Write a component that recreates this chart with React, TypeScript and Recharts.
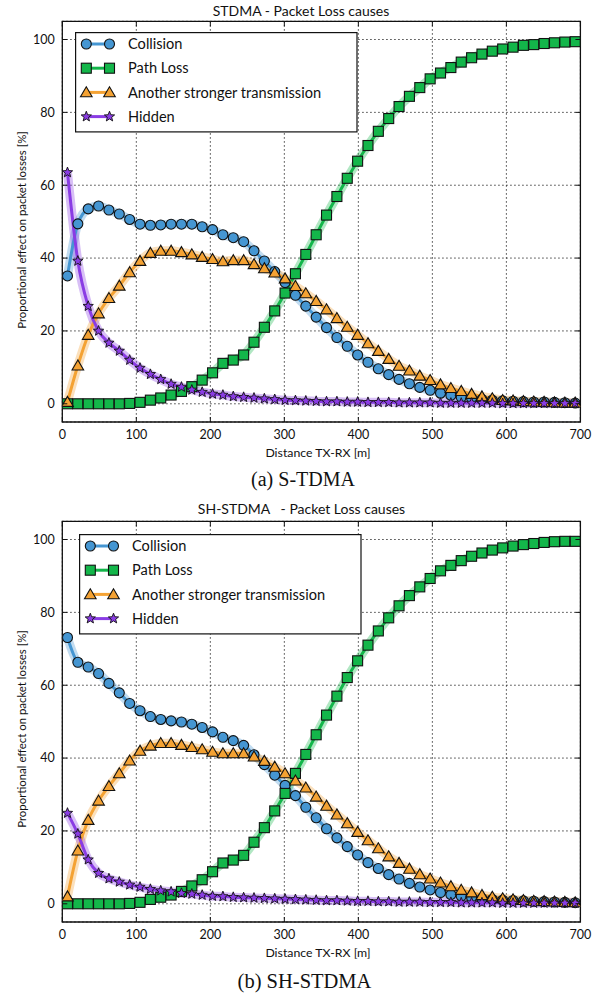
import React from 'react';
import { ComposedChart, Line, XAxis, YAxis, CartesianGrid, ReferenceArea, Legend } from 'recharts';

// ---------- data ----------
const distances = [7, 21, 35, 49, 63, 77, 91, 105, 119, 133, 147, 161, 175, 189, 203, 217, 231, 245, 259, 273, 287, 301, 315, 329, 343, 357, 371, 385, 399, 413, 427, 441, 455, 469, 483, 497, 511, 525, 539, 553, 567, 581, 595, 609, 623, 637, 651, 665, 679, 693];

const xTicks = [0, 100, 200, 300, 400, 500, 600, 700];
const yTicks = [0, 20, 40, 60, 80, 100];

// (a) S-TDMA
const stdmaCollision = [35.1, 49.4, 53.5, 54.3, 53.2, 52.1, 50.6, 49.3, 49.0, 49.1, 49.3, 49.3, 49.3, 48.6, 47.8, 46.4, 45.6, 44.5, 42.0, 39.2, 36.3, 33.3, 29.8, 26.8, 23.8, 20.9, 18.2, 15.8, 13.4, 11.4, 9.6, 8.0, 6.7, 5.5, 4.5, 3.7, 2.9, 2.3, 1.8, 1.5, 1.2, 1.0, 0.8, 0.7, 0.6, 0.5, 0.5, 0.4, 0.3, 0.2];
const stdmaPathLoss = [0, 0, 0, 0, 0, 0, 0.1, 0.4, 1.0, 1.6, 2.4, 3.4, 4.7, 6.5, 8.5, 11.1, 12.0, 13.4, 16.9, 21.0, 25.5, 30.4, 35.7, 41.0, 46.4, 51.8, 56.9, 61.9, 66.6, 70.9, 74.8, 78.3, 81.6, 84.4, 86.8, 89.2, 90.8, 92.3, 93.8, 95.0, 96.0, 96.8, 97.4, 97.9, 98.4, 98.6, 98.9, 99.1, 99.3, 99.4];
const stdmaStronger = [0.5, 10.5, 18.9, 24.8, 29.0, 32.4, 36.1, 39.2, 41.4, 42.0, 42.0, 41.6, 41.0, 40.3, 39.7, 39.1, 39.4, 39.4, 38.3, 37.2, 36.0, 34.4, 32.3, 30.3, 28.2, 25.9, 23.5, 21.1, 18.9, 16.6, 14.5, 12.3, 10.4, 9.1, 7.7, 6.5, 5.3, 4.3, 3.5, 2.7, 2.0, 1.5, 1.0, 0.9, 0.7, 0.6, 0.5, 0.4, 0.3, 0.3];
const stdmaHidden = [63.5, 39.2, 26.8, 20.0, 16.7, 14.5, 12.0, 9.8, 8.1, 6.7, 5.4, 4.6, 3.8, 3.2, 2.7, 2.4, 2.0, 1.8, 1.6, 1.4, 1.2, 1.0, 0.9, 0.8, 0.7, 0.6, 0.6, 0.5, 0.5, 0.4, 0.4, 0.4, 0.3, 0.3, 0.3, 0.3, 0.2, 0.2, 0.2, 0.2, 0.2, 0.2, 0.1, 0.1, 0.1, 0.1, 0.1, 0.1, 0.1, 0.1];

// (b) SH-STDMA
const shCollision = [73.1, 66.3, 65.0, 63.2, 60.5, 57.9, 55.0, 53.0, 51.4, 50.6, 50.2, 49.9, 49.3, 48.4, 47.2, 45.7, 44.8, 43.5, 40.9, 38.2, 35.3, 32.5, 29.7, 26.5, 23.6, 20.6, 18.1, 15.7, 13.4, 11.3, 9.7, 8.0, 6.8, 5.6, 4.6, 3.8, 3.1, 2.5, 2.1, 1.7, 1.4, 1.2, 1.0, 0.9, 0.8, 0.7, 0.6, 0.5, 0.4, 0.3];
const shPathLoss = [0, 0, 0, 0, 0, 0, 0.1, 0.4, 1.2, 1.8, 2.4, 3.4, 4.9, 6.6, 8.8, 11.2, 12.0, 13.3, 16.9, 20.9, 25.5, 30.3, 35.8, 41.0, 46.4, 51.8, 57.0, 62.1, 66.7, 71.0, 74.9, 78.5, 81.8, 84.6, 87.0, 89.3, 91.4, 92.9, 94.2, 95.4, 96.3, 97.1, 97.7, 98.2, 98.6, 98.9, 99.2, 99.4, 99.5, 99.5];
const shStronger = [2.0, 14.6, 23.0, 28.3, 32.3, 35.8, 39.3, 42.0, 43.4, 44.1, 44.1, 43.6, 43.0, 42.4, 41.7, 41.3, 41.3, 41.3, 40.4, 39.2, 37.6, 35.8, 33.8, 31.9, 29.4, 26.9, 24.5, 22.1, 19.7, 17.4, 15.2, 13.0, 11.2, 9.6, 8.1, 6.9, 5.8, 4.8, 3.8, 3.1, 2.4, 1.9, 1.5, 1.2, 1.0, 0.8, 0.7, 0.6, 0.5, 0.4];
const shHidden = [24.9, 19.2, 12.1, 8.4, 6.9, 6.0, 5.2, 4.6, 4.0, 3.6, 3.3, 2.9, 2.7, 2.4, 2.1, 2.0, 1.8, 1.7, 1.6, 1.5, 1.4, 1.3, 1.2, 1.1, 1.0, 0.9, 0.9, 0.8, 0.7, 0.7, 0.6, 0.6, 0.5, 0.5, 0.5, 0.4, 0.4, 0.4, 0.3, 0.3, 0.3, 0.3, 0.2, 0.2, 0.2, 0.2, 0.2, 0.2, 0.2, 0.2];

const seriesNames = ['Collision', 'Path Loss', 'Another stronger transmission', 'Hidden'];
const seriesKeys = ['col', 'pl', 'ast', 'hid'];
const seriesColors = ['#4596d2', '#13b64a', '#f4a233', '#8a3ce4'];
const seriesShapes = ['circle', 'square', 'triangle', 'star'];

// ---------- layout ----------
const CW = 606;
const CH = 500;
const PL = 62.3;
const PT = 21.3;
const PW = 518.1;
const PH = 400.7;
const YW = 40;
const XH = 30;
const TM = 6;
const FONT = 'Lato, "Open Sans", sans-serif';

function buildRows(col: number[], pl: number[], ast: number[], hid: number[]) {
  return distances.map((d, i) => ({ d, col: col[i], pl: pl[i], ast: ast[i], hid: hid[i] }));
}

function starPoints(cx: number, cy: number, R: number, r: number) {
  const pts: string[] = [];
  for (let k = 0; k < 10; k++) {
    const a = -Math.PI / 2 + (k * Math.PI) / 5;
    const rad = k % 2 === 0 ? R : r;
    pts.push(`${cx + rad * Math.cos(a)},${cy + rad * Math.sin(a)}`);
  }
  return pts.join(' ');
}

function drawMarker(shape: string, cx: number, cy: number, fill: string, key?: string) {
  const st = '#111';
  const sw = 1.1;
  if (cx == null || cy == null) return <g key={key} />;
  switch (shape) {
    case 'circle':
      return <circle key={key} cx={cx} cy={cy} r={5} fill={fill} stroke={st} strokeWidth={sw} />;
    case 'square':
      return <rect key={key} x={cx - 5} y={cy - 5} width={10} height={10} fill={fill} stroke={st} strokeWidth={sw} />;
    case 'triangle':
      return (
        <polygon
          key={key}
          points={`${cx},${cy - 5.6} ${cx - 5.8},${cy + 4.4} ${cx + 5.8},${cy + 4.4}`}
          fill={fill}
          stroke={st}
          strokeWidth={sw}
          strokeLinejoin="miter"
        />
      );
    default:
      return <polygon key={key} points={starPoints(cx, cy, 5.4, 2.3)} fill={fill} stroke={st} strokeWidth={0.9} />;
  }
}

const XTick = (p: any) => {
  const { x, y, payload } = p;
  const base = y - TM;
  return (
    <g>
      <line x1={x} x2={x} y1={base} y2={base - 5} stroke="#111" strokeWidth={1} />
      <line x1={x} x2={x} y1={base - PH} y2={base - PH + 5} stroke="#111" strokeWidth={1} />
      <text x={x} y={base + 16.5} textAnchor="middle" fontFamily={FONT} fontSize={12.5} fill="#111">
        {payload.value}
      </text>
    </g>
  );
};

const YTick = (p: any) => {
  const { x, y, payload } = p;
  const left = x + TM;
  return (
    <g>
      <line x1={left} x2={left + 5} y1={y} y2={y} stroke="#111" strokeWidth={1} />
      <line x1={left + PW - 5} x2={left + PW} y1={y} y2={y} stroke="#111" strokeWidth={1} />
      <text x={left - 7.5} y={y + 4.4} textAnchor="end" fontFamily={FONT} fontSize={12.5} fill="#111">
        {payload.value}
      </text>
    </g>
  );
};

const LegendBox = ({ w, h }: { w: number; h: number }) => (
  <svg width={w} height={h} style={{ display: 'block', overflow: 'visible' }}>
    <rect x={0.6} y={0.6} width={w - 1.2} height={h - 1.2} fill="#fff" stroke="#111" strokeWidth={1.2} />
    {seriesNames.map((name, i) => {
      const ry = 12 + i * 24.2;
      return (
        <g key={name}>
          <line x1={11.3} x2={34.5} y1={ry} y2={ry} stroke={seriesColors[i]} strokeWidth={3} />
          {drawMarker(seriesShapes[i], 11.3, ry, seriesColors[i], `a${i}`)}
          {drawMarker(seriesShapes[i], 34.5, ry, seriesColors[i], `b${i}`)}
          <text x={53} y={ry + 5.2} fontFamily={FONT} fontSize={14.6} fill="#111">
            {name}
          </text>
        </g>
      );
    })}
  </svg>
);

function Panel({ rows, top, legendLeft, legendTop }: { rows: any[]; top: number; legendLeft: number; legendTop: number }) {
  const lw = 282.6;
  const lh = 100.5;
  return (
    <div style={{ position: 'absolute', left: 0, top, width: CW, height: CH }}>
      <ComposedChart
        width={CW}
        height={CH}
        data={rows}
        margin={{ top: PT, right: CW - PL - PW, bottom: CH - PT - PH - XH, left: PL - YW }}
      >
        <CartesianGrid stroke="#222" strokeWidth={1} strokeDasharray="1.3 2.7" />
        <XAxis
          type="number"
          dataKey="d"
          domain={[0, 700]}
          ticks={xTicks}
          interval={0}
          tickSize={0}
          tickMargin={TM}
          tickLine={false}
          axisLine={false}
          height={XH}
          allowDataOverflow
          tick={(p: any) => <XTick {...p} />}
        />
        <YAxis
          type="number"
          domain={[-5, 105]}
          ticks={yTicks}
          interval={0}
          tickSize={0}
          tickMargin={TM}
          tickLine={false}
          axisLine={false}
          width={YW}
          allowDataOverflow
          tick={(p: any) => <YTick {...p} />}
        />
        {seriesKeys.map((k, i) => (
          <Line
            key={`band-${k}`}
            dataKey={k}
            type="monotone"
            stroke={seriesColors[i]}
            strokeOpacity={0.33}
            strokeWidth={9}
            dot={false}
            activeDot={false}
            legendType="none"
            isAnimationActive={false}
          />
        ))}
        {seriesKeys.map((k, i) => (
          <Line
            key={`line-${k}`}
            dataKey={k}
            name={seriesNames[i]}
            type="monotone"
            stroke={seriesColors[i]}
            strokeWidth={3}
            activeDot={false}
            isAnimationActive={false}
            dot={(p: any) => drawMarker(seriesShapes[i], p.cx, p.cy, seriesColors[i], `m-${k}-${p.index}`)}
          />
        ))}
        <ReferenceArea x1={0} x2={700} y1={-5} y2={105} fill="none" fillOpacity={0} stroke="#111" strokeWidth={1.3} />
        <Legend
          layout="vertical"
          align="center"
          verticalAlign="middle"
          wrapperStyle={{ left: legendLeft, top: legendTop, width: lw, height: lh }}
          content={() => <LegendBox w={lw} h={lh} />}
        />
      </ComposedChart>
    </div>
  );
}

const rowsA = buildRows(stdmaCollision, stdmaPathLoss, stdmaStronger, stdmaHidden);
const rowsB = buildRows(shCollision, shPathLoss, shStronger, shHidden);

export default function App() {
  return (
    <div style={{ position: 'absolute', left: 0, top: 0, width: CW, height: 996, background: '#fff', overflow: 'hidden' }}>
      <Panel rows={rowsA} top={0} legendLeft={75} legendTop={31.7} />
      <Panel rows={rowsB} top={500} legendLeft={79.3} legendTop={34} />
      <svg width={CW} height={996} style={{ position: 'absolute', left: 0, top: 0, pointerEvents: 'none' }}>
        <text x={301} y={15.5} textAnchor="middle" fontFamily={FONT} fontSize={14} fill="#111">
          STDMA - Packet Loss causes
        </text>
        <text x={301.5} y={514} textAnchor="middle" fontFamily={FONT} fontSize={14} fill="#111" style={{ whiteSpace: 'pre' }}>
          {'SH-STDMA   - Packet Loss causes'}
        </text>
        <text x={318} y={456.5} textAnchor="middle" fontFamily={FONT} fontSize={12.3} fill="#111">
          Distance TX-RX [m]
        </text>
        <text x={318} y={956.5} textAnchor="middle" fontFamily={FONT} fontSize={12.3} fill="#111">
          Distance TX-RX [m]
        </text>
        <text x={0} y={0} transform="translate(26,230) rotate(-90)" textAnchor="middle" fontFamily={FONT} fontSize={11.4} fill="#111">
          Proportional effect on packet losses [%]
        </text>
        <text x={0} y={0} transform="translate(26,729) rotate(-90)" textAnchor="middle" fontFamily={FONT} fontSize={11.4} fill="#111">
          Proportional effect on packet losses [%]
        </text>
        <text x={303} y={486} textAnchor="middle" fontFamily='"Liberation Serif", "Times New Roman", serif' fontSize={20} fill="#111">
          (a) S-TDMA
        </text>
        <text x={304.5} y={988} textAnchor="middle" fontFamily='"Liberation Serif", "Times New Roman", serif' fontSize={20.5} fill="#111">
          (b) SH-STDMA
        </text>
      </svg>
    </div>
  );
}
